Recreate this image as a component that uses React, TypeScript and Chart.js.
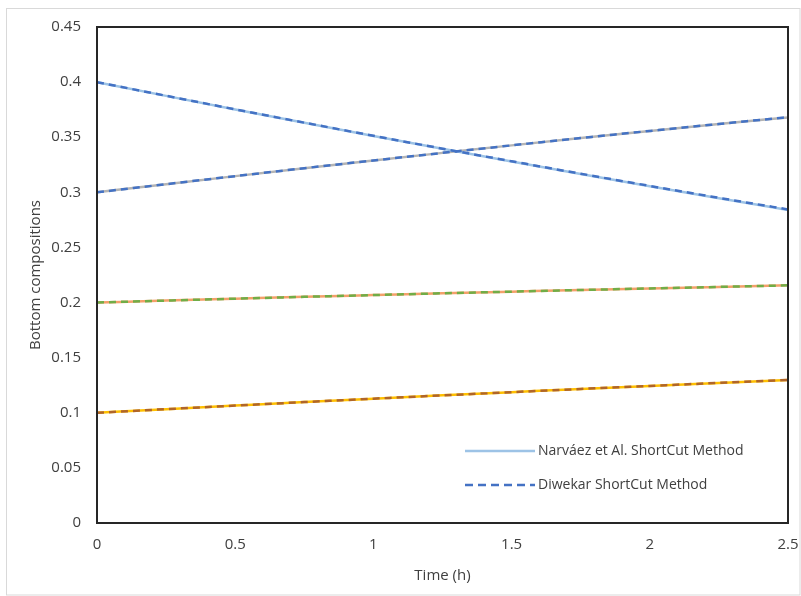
import React, { useEffect, useRef } from "react";
import { Chart, registerables } from "chart.js";

Chart.register(...registerables);

const time = [0, 0.25, 0.5, 0.75, 1, 1.25, 1.5, 1.75, 2, 2.25, 2.5];

// Narváez et Al. ShortCut Method (solid)
const narvaezA = [0.4, 0.3875, 0.3752, 0.3631, 0.3512, 0.3395, 0.328, 0.3167, 0.3056, 0.2947, 0.284];
const narvaezB = [0.3, 0.3074, 0.3147, 0.3219, 0.3289, 0.3358, 0.3426, 0.3492, 0.3557, 0.362, 0.368];
const narvaezC = [0.2, 0.2018, 0.2035, 0.2052, 0.2068, 0.2084, 0.2099, 0.2114, 0.2128, 0.2142, 0.2156];
const narvaezD = [0.1, 0.1033, 0.1065, 0.1097, 0.1128, 0.1158, 0.1187, 0.1216, 0.1244, 0.1271, 0.1298];

// Diwekar ShortCut Method (dashed)
const diwekarA = [0.4, 0.3876, 0.3753, 0.3632, 0.3513, 0.3396, 0.3282, 0.3169, 0.3058, 0.295, 0.2845];
const diwekarB = [0.3, 0.3074, 0.3147, 0.3219, 0.3289, 0.3358, 0.3426, 0.3492, 0.3557, 0.362, 0.3682];
const diwekarC = [0.2, 0.2018, 0.2035, 0.2052, 0.2068, 0.2084, 0.2099, 0.2114, 0.2128, 0.2142, 0.2156];
const diwekarD = [0.1, 0.1033, 0.1065, 0.1097, 0.1128, 0.1158, 0.1187, 0.1216, 0.1244, 0.1271, 0.1298];

const xTicks = [0, 0.5, 1, 1.5, 2, 2.5];
const yTicks = [0, 0.05, 0.1, 0.15, 0.2, 0.25, 0.3, 0.35, 0.4, 0.45];

const legendLabels = ["Narváez et Al. ShortCut Method", "Diwekar ShortCut Method"];

const TEXT = "#404040";
const FONT = "'Open Sans', 'Noto Sans', sans-serif";

const W = 801;
const H = 596;

export default function App() {
  const ref = useRef<HTMLCanvasElement | null>(null);

  useEffect(() => {
    document.body.style.margin = "0";
    const canvas = ref.current;
    if (!canvas) return;

    const pts = (arr: number[]) => arr.map((y, i) => ({ x: time[i], y }));

    const solid = (label: string, arr: number[], color: string) => ({
      label,
      data: pts(arr),
      borderColor: color,
      borderWidth: 2.5,
      pointRadius: 0,
      tension: 0.3,
      cubicInterpolationMode: "monotone" as const,
      order: 2,
    });
    const dashed = (label: string, arr: number[], color: string) => ({
      label,
      data: pts(arr),
      borderColor: color,
      borderWidth: 2.5,
      borderDash: [7, 5],
      pointRadius: 0,
      tension: 0.3,
      cubicInterpolationMode: "monotone" as const,
      order: 1,
    });

    const framePlugin = {
      id: "frames",
      beforeDraw(chart: any) {
        const ctx = chart.ctx;
        ctx.save();
        ctx.fillStyle = "#ffffff";
        ctx.fillRect(0, 0, chart.width, chart.height);
        ctx.strokeStyle = "#d9d9d9";
        ctx.lineWidth = 1;
        ctx.strokeRect(6.5, 8.5, chart.width - 7.5, chart.height - 9.5);
        ctx.restore();
      },
      afterDraw(chart: any) {
        const ctx = chart.ctx;
        const a = chart.chartArea;
        ctx.save();
        ctx.strokeStyle = "#262626";
        ctx.lineWidth = 2;
        ctx.strokeRect(a.left, a.top, a.right - a.left, a.bottom - a.top);

        // legend
        const lx0 = 465;
        const lx1 = 535;
        const rows = [451, 485];
        ctx.font = `14px ${FONT}`;
        ctx.fillStyle = TEXT;
        ctx.textBaseline = "middle";
        ctx.textAlign = "left";
        ctx.lineWidth = 2.5;
        ctx.strokeStyle = "#9dc3e6";
        ctx.setLineDash([]);
        ctx.beginPath();
        ctx.moveTo(lx0, rows[0]);
        ctx.lineTo(lx1, rows[0]);
        ctx.stroke();
        ctx.strokeStyle = "#4472c4";
        ctx.setLineDash([8, 5]);
        ctx.beginPath();
        ctx.moveTo(lx0, rows[1]);
        ctx.lineTo(lx1, rows[1]);
        ctx.stroke();
        ctx.setLineDash([]);
        ctx.fillText(legendLabels[0], lx1 + 3, rows[0]);
        ctx.fillText(legendLabels[1], lx1 + 3, rows[1]);
        ctx.restore();
      },
    };

    const chart = new Chart(canvas, {
      type: "line",
      data: {
        datasets: [
          solid(legendLabels[0], narvaezA, "#9dc3e6"),
          solid(legendLabels[0] + " 2", narvaezB, "#b4b4b4"),
          solid(legendLabels[0] + " 3", narvaezC, "#f4a06a"),
          solid(legendLabels[0] + " 4", narvaezD, "#ffc000"),
          dashed(legendLabels[1], diwekarA, "#4472c4"),
          dashed(legendLabels[1] + " 2", diwekarB, "#4472c4"),
          dashed(legendLabels[1] + " 3", diwekarC, "#70ad47"),
          dashed(legendLabels[1] + " 4", diwekarD, "#b0652a"),
        ],
      },
      options: {
        animation: false,
        responsive: false,
        maintainAspectRatio: false,
        layout: { padding: { left: 27, top: 27, right: 13, bottom: 11 } },
        plugins: {
          legend: { display: false },
          tooltip: { enabled: false },
        },
        scales: {
          x: {
            type: "linear",
            min: 0,
            max: 2.5,
            grid: { display: false, drawTicks: false },
            border: { display: false },
            afterBuildTicks: (s: any) => {
              s.ticks = xTicks.map((v) => ({ value: v }));
            },
            ticks: {
              padding: 13,
              color: TEXT,
              font: { family: FONT, size: 15 },
              maxRotation: 0,
              callback: (v: any) => String(v),
            },
            title: {
              display: true,
              text: "Time (h)",
              color: TEXT,
              font: { family: FONT, size: 15 },
              padding: 0,
            },
            afterFit: (s: any) => {
              s.height = H - 11 - 523;
              s.paddingLeft = 0;
              s.paddingRight = 0;
            },
          },
          y: {
            type: "linear",
            min: 0,
            max: 0.45,
            grid: { display: false, drawTicks: false },
            border: { display: false },
            afterBuildTicks: (s: any) => {
              s.ticks = yTicks.map((v) => ({ value: v }));
            },
            ticks: {
              padding: 16,
              color: TEXT,
              font: { family: FONT, size: 15 },
              callback: (v: any) => String(v),
            },
            title: {
              display: true,
              text: "Bottom compositions",
              color: TEXT,
              font: { family: FONT, size: 15 },
              padding: 0,
            },
            afterFit: (s: any) => {
              s.width = 97 - 27;
              s.paddingTop = 0;
              s.paddingBottom = 0;
            },
          },
        },
      },
      plugins: [framePlugin],
    });

    return () => chart.destroy();
  }, []);

  return (
    <div style={{ width: W, height: H }}>
      <canvas ref={ref} width={W} height={H} style={{ display: "block", width: W, height: H }} />
    </div>
  );
}
